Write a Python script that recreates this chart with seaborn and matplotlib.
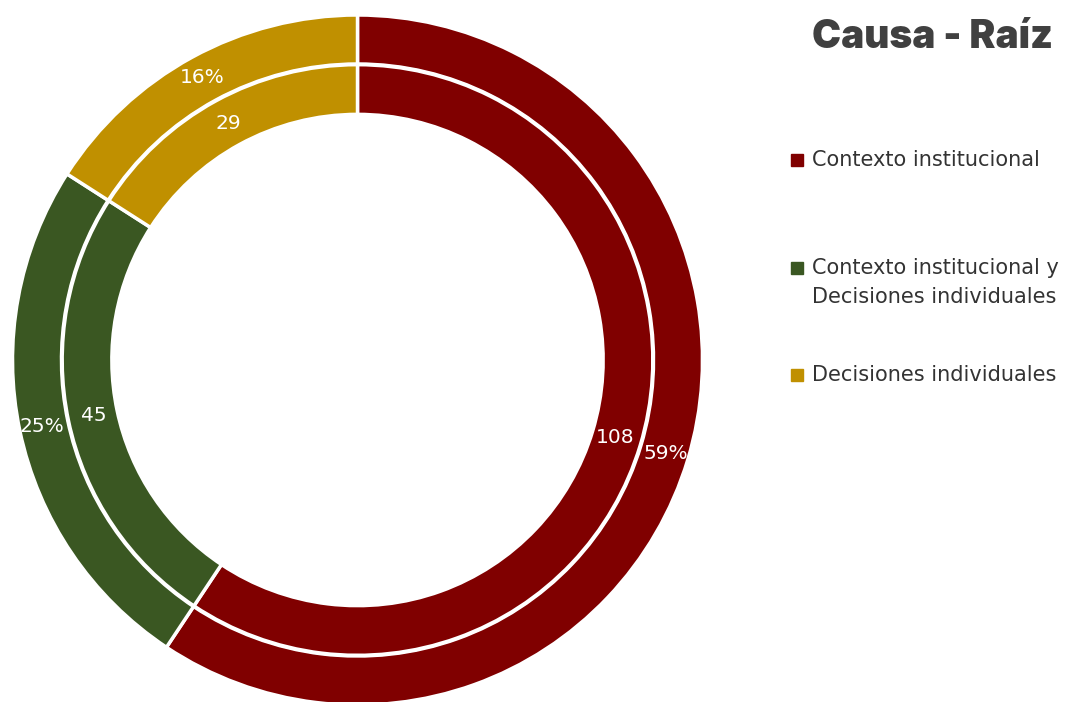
import numpy as np
import matplotlib.pyplot as plt
import matplotlib.patches as mpatches
import seaborn as sns

sns.set_theme(style="white")
plt.rcParams['font.family'] = ['DejaVu Sans']

categories = ['Contexto institucional', 'Contexto institucional y\nDecisiones individuales', 'Decisiones individuales']
counts = [108, 45, 29]
pct_labels = ['59%', '25%', '16%']
colors = ['#800000', '#3a5722', '#c09000']

fig = plt.figure(figsize=(10.91, 7.02), dpi=100)
fig.patch.set_facecolor('white')

# pie axes placed so the ring sits like the reference
W, H = 1091, 702
ax = fig.add_axes([12 / W, (H - 705) / H, 691 / W, 690 / H])

# outer ring: percentages
outer, _ = ax.pie(counts, radius=1.0, startangle=90, counterclock=False, colors=colors,
                  wedgeprops=dict(width=0.142, edgecolor='white', linewidth=2.5))
# inner ring: counts
inner, _ = ax.pie(counts, radius=0.856, startangle=90, counterclock=False, colors=colors,
                  wedgeprops=dict(width=0.144, edgecolor='white', linewidth=2.5))

total = sum(counts)
start = 90.0
for c, p in zip(counts, pct_labels):
    span = 360.0 * c / total
    mid = np.deg2rad(start - span / 2)
    ax.text(0.935 * np.cos(mid), 0.935 * np.sin(mid), p, ha='center', va='center',
            color='white', fontsize=14.5)
    ax.text(0.78 * np.cos(mid), 0.78 * np.sin(mid), str(c), ha='center', va='center',
            color='white', fontsize=14.5)
    start -= span

ax.set_xlim(-1, 1)
ax.set_ylim(-1, 1)
ax.set_aspect('equal')
ax.axis('off')

# title
fig.text(932 / W, 1 - 38 / H, 'Causa - Raíz', ha='center', va='center',
         fontsize=28, fontweight='black', color='#404040', family=['Inter', 'DejaVu Sans'])

# legend drawn by hand
leg_y = [160, 268, 375]
for y, lab, col in zip(leg_y, categories, colors):
    fig.patches.append(mpatches.Rectangle((791 / W, 1 - (y + 6) / H), 12 / W, 12 / H,
                                          transform=fig.transFigure, color=col))
    fig.text(812 / W, 1 - (y - 10) / H, lab, ha='left', va='top', fontsize=15,
             color='#333333', linespacing=1.55)

fig.savefig('out.png', dpi=100)
